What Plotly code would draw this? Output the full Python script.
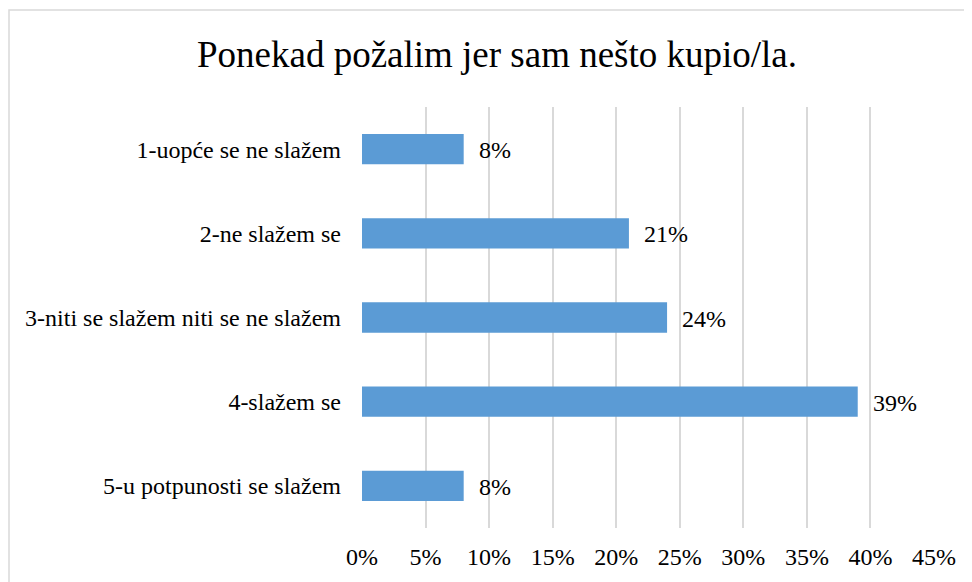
import plotly.graph_objects as go

categories = ["1-uopće se ne slažem", "2-ne slažem se", "3-niti se slažem niti se ne slažem",
              "4-slažem se", "5-u potpunosti se slažem"]
values = [8, 21, 24, 39, 8]
tick_vals = [0, 5, 10, 15, 20, 25, 30, 35, 40, 45]
tick_text = [f"{v}%" for v in tick_vals]
title = "Ponekad požalim jer sam nešto kupio/la."

FONT = "Liberation Serif"
FS = 24

fig = go.Figure()
fig.add_trace(go.Bar(
    x=values, y=categories, orientation="h",
    marker=dict(color="#5B9BD5", line=dict(width=0)),
    width=0.36, hoverinfo="skip",
))

for c, v in zip(categories, values):
    fig.add_annotation(x=v, y=c, text=f"{v}%", showarrow=False,
                       xanchor="left", xshift=13, yshift=-1,
                       font=dict(family=FONT, size=FS, color="#000000"))

# page body has an 8px margin; figure coordinates are offset accordingly
W, H = 964, 574
L, R, T, B = 354, 38, 99, 54
pw, ph = W - L - R, H - T - B

fig.add_shape(type="rect", xref="paper", yref="paper",
              x0=(1 - L) / pw, x1=1.2, y0=-0.3, y1=1 + (T - 2) / ph,
              line=dict(color="#D9D9D9", width=1.5), layer="below")

fig.update_layout(
    width=W, height=H,
    margin=dict(l=L, r=R, t=T, b=B),
    paper_bgcolor="white", plot_bgcolor="white",
    title=dict(text=title, x=489 / W, xanchor="center", y=1 - 46 / H, yanchor="middle",
               xref="container", yref="container",
               font=dict(family=FONT, size=37, color="#000000")),
    showlegend=False,
    font=dict(family=FONT, size=FS, color="#000000"),
    xaxis=dict(range=[0, 45], tickvals=tick_vals, ticktext=tick_text,
               showgrid=True, gridcolor="#D9D9D9", gridwidth=1.5,
               zeroline=False, showline=False, ticks="",
               ticklabelstandoff=12, fixedrange=True,
               tickfont=dict(family=FONT, size=FS, color="#000000")),
    yaxis=dict(autorange="reversed", showgrid=False, zeroline=False,
               showline=False, ticks="", ticklabelstandoff=20,
               tickfont=dict(family=FONT, size=FS, color="#000000")),
)

fig.write_html("out.html")
